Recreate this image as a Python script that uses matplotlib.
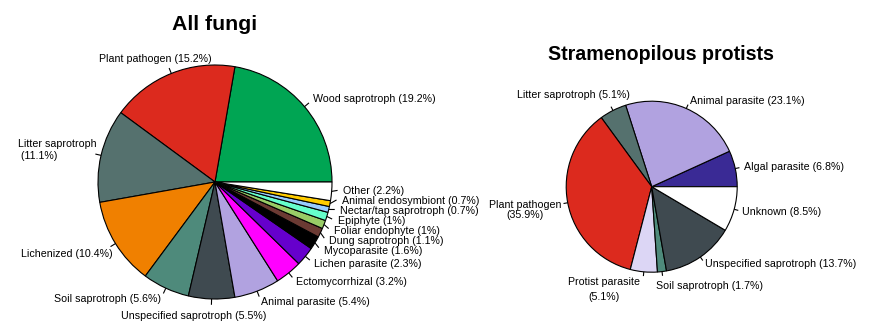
import numpy as np
import matplotlib
matplotlib.use("Agg")
import matplotlib.pyplot as plt

plt.rcParams['font.family'] = ['Liberation Sans', 'DejaVu Sans']

# ---- All fungi: share of OTUs per functional guild (%) ----
fungi_names = ["Wood saprotroph", "Plant pathogen", "Litter saprotroph", "Lichenized",
               "Soil saprotroph", "Unspecified saprotroph", "Animal parasite",
               "Ectomycorrhizal", "Lichen parasite", "Mycoparasite", "Dung saprotroph",
               "Foliar endophyte", "Epiphyte", "Nectar/tap saprotroph",
               "Animal endosymbiont", "Other"]
fungi_pct = [19.2, 15.2, 11.1, 10.4, 5.6, 5.5, 5.4, 3.2, 2.3, 1.6, 1.1, 1, 1, 0.7, 0.7, 2.2]
fungi_colors = ["#00A553", "#DC2A1E", "#55716E", "#F08000", "#4E8A7B", "#3F4A50",
                "#B1A2E0", "#FF00FF", "#6600CC", "#000000", "#6B3A33", "#99CC66",
                "#66FFCC", "#99CCFF", "#FFCC00", "#FFFFFF"]

# ---- Stramenopilous protists ----
protist_names = ["Algal parasite", "Animal parasite", "Litter saprotroph", "Plant pathogen",
                 "Protist parasite", "Soil saprotroph", "Unspecified saprotroph", "Unknown"]
protist_pct = [6.8, 23.1, 5.1, 35.9, 5.1, 1.7, 13.7, 8.5]
protist_colors = ["#3A2A95", "#B1A2E0", "#55716E", "#DC2A1E", "#DCD6F5", "#4E8A7B",
                  "#3F4A50", "#FFFFFF"]

# label tweaks: pixel shifts (right, down), line break text and line spacing
fungi_tweaks = {
    "Plant pathogen": dict(dx=45, dy=-3.4),
    "Litter saprotroph": dict(dx=7.3, dy=-3.1, sep="\n ", ma="left", ls=1.25),
    "Lichenized": dict(dx=6.8, dy=4.6),
    "Unspecified saprotroph": dict(dx=55.5, dy=5.4),
}
protist_tweaks = {
    "Litter saprotroph": dict(dx=20.8, dy=-7.8),
    "Plant pathogen": dict(dx=1.7, dy=5.7, sep="\n", ma="center", ls=1.1),
    "Protist parasite": dict(dx=-3, dy=9.4, sep="\n", ma="center", ls=1.6),
    "Soil saprotroph": dict(dx=-7.3, dy=5.6),
}

FS = 7.7
W, H = 896, 328
fig = plt.figure(figsize=(W / 100, H / 100), dpi=100)
ax = fig.add_axes([0, 0, 1, 1])


def draw_pie(ax, cx, cy, r, pct, names, colors, tweaks, gap):
    ax.pie(pct, colors=colors, startangle=0, counterclock=True, center=(cx, cy),
           radius=r, normalize=True,
           wedgeprops=dict(edgecolor="black", linewidth=0.8))
    frac = np.asarray(pct, float) / np.sum(pct)
    edges = np.concatenate([[0.0], np.cumsum(frac)]) * 2 * np.pi
    mids = (edges[:-1] + edges[1:]) / 2
    R = 1.1 * r
    ly = R * np.sin(mids)
    right = np.cos(mids) >= 0
    # keep neighbouring labels on each side apart
    for side in (right, ~right):
        idx = np.where(side)[0]
        order = idx[np.argsort(ly[idx])]
        ys = ly[order].copy()
        for _ in range(300):
            for k in range(len(ys) - 1):
                d = ys[k + 1] - ys[k]
                if d < gap:
                    ys[k] -= (gap - d) / 2
                    ys[k + 1] += (gap - d) / 2
        ly[order] = ys
    for i, name in enumerate(names):
        sgn = 1 if right[i] else -1
        lx = sgn * np.sqrt(max(R ** 2 - ly[i] ** 2, 0))
        x0, y0 = cx + r * np.cos(mids[i]), cy + r * np.sin(mids[i])
        x1, y1 = cx + lx * 1.05 / 1.1, cy + ly[i] * 1.05 / 1.1
        ax.plot([x0, x1], [y0, y1], color="black", lw=0.8, solid_capstyle="butt")
        t = tweaks.get(name, {})
        label = f"{name}{t.get('sep', ' ')}({pct[i]:g}%)"
        ax.text(cx + lx + t.get("dx", 0), cy + ly[i] - t.get("dy", 0), label,
                ha="left" if right[i] else "right", va="center", fontsize=FS,
                multialignment=t.get("ma", "left"), linespacing=t.get("ls", 1.2))


draw_pie(ax, 215, H - 182, 117, fungi_pct, fungi_names, fungi_colors, fungi_tweaks, 10)
draw_pie(ax, 651.7, H - 186.7, 85.5, protist_pct, protist_names, protist_colors,
         protist_tweaks, 10)

ax.set_xlim(0, W)
ax.set_ylim(0, H)
ax.set_aspect("auto")
ax.axis("off")

fig.text(214.8 / W, 1 - 24 / H, "All fungi", ha="center", va="center",
         fontsize=15.3, fontweight="bold")
fig.text(660.5 / W, 1 - 55 / H, "Stramenopilous protists", ha="center", va="center",
         fontsize=14.1, fontweight="bold")

fig.savefig("out.png", dpi=100, facecolor="white")
